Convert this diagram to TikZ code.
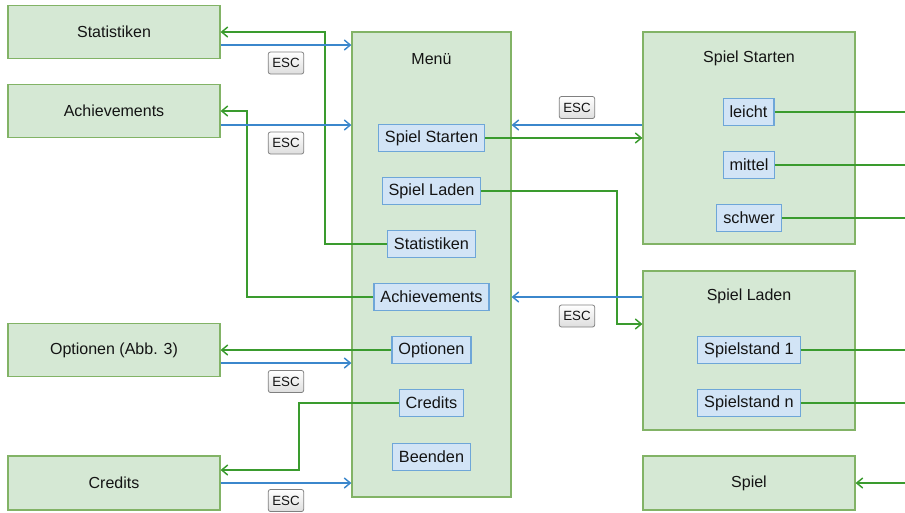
\documentclass[tikz,border=0pt]{standalone}
\usepackage{fontspec}
\setmainfont{Liberation Sans}
\usetikzlibrary{arrows.meta,calc}
\definecolor{gfill}{HTML}{D5E8D4}
\definecolor{gdraw}{HTML}{82B366}
\definecolor{bfill}{HTML}{D2E4F6}
\definecolor{bdraw}{HTML}{6EA6D8}
\definecolor{gline}{HTML}{3A9B2E}
\definecolor{bline}{HTML}{3B87CC}
\definecolor{txt}{HTML}{141414}
\tikzset{
  gbox/.style={draw=gdraw,fill=gfill,line width=0.9pt,inner sep=0pt,text=txt,font=\fontsize{12}{14}\selectfont},
  item/.style={draw=bdraw,fill=bfill,line width=0.9pt,inner xsep=4.8pt,inner ysep=0pt,minimum height=20pt,text=txt,font=\fontsize{12.2}{14}\selectfont},
  ttl/.style={text=txt,font=\fontsize{12}{14}\selectfont,inner sep=0pt},
  escbox/.style={draw=black!50,rounded corners=1.6pt,top color=white,bottom color=black!13,line width=0.6pt,minimum width=26.5pt,minimum height=16.5pt,inner sep=0pt,text=txt,font=\fontsize{10}{11}\selectfont},
  gcon/.style={draw=gline,line width=1.1pt,-{Straight Barb[length=4.5pt,width=7.5pt]}},
  gplain/.style={draw=gline,line width=1.1pt},
  bcon/.style={draw=bline,line width=1.1pt,-{Straight Barb[length=4.5pt,width=7.5pt]}},
}
\begin{document}
\begin{tikzpicture}[x=0.75pt,y=-0.75pt]
\useasboundingbox (0,0) rectangle (905,512);
% left boxes
\node[gbox,minimum width=159pt,minimum height=39.75pt] (stat) at (114,32) {Statistiken};
\node[gbox,minimum width=159pt,minimum height=39.75pt] (ach) at (114,111) {Achievements};
\node[gbox,minimum width=159pt,minimum height=39.75pt] (opt) at (114,350) {Optionen (Abb. 3)};
\node[gbox,minimum width=159pt,minimum height=40.5pt] (cred) at (114,483) {Credits};
% menu
\node[gbox,minimum width=119.25pt,minimum height=348.75pt] (menu) at (431.5,264.5) {};
\node[ttl] (menut) at (431.5,59) {Menü};
% right boxes
\node[gbox,minimum width=159pt,minimum height=159pt] (sstart) at (749,138) {};
\node[ttl] (sstartt) at (749,58) {Spiel Starten};
\node[gbox,minimum width=159pt,minimum height=119.25pt] (slad) at (749,350.5) {};
\node[ttl] (sladt) at (749,296) {Spiel Laden};
\node[gbox,minimum width=159pt,minimum height=40.5pt] (spiel) at (749,483) {Spiel};
% menu items
\node[item] (mstart) at (431.5,138) {Spiel Starten};
\node[item] (mlad) at (431.5,191) {Spiel Laden};
\node[item] (mstat) at (431.5,244) {Statistiken};
\node[item] (mach) at (431.5,297) {Achievements};
\node[item] (mopt) at (431.5,350) {Optionen};
\node[item] (mcred) at (431.5,403) {Credits};
\node[item] (mbeend) at (431.5,457) {Beenden};
% right items
\node[item] (leicht) at (748.5,112) {leicht};
\node[item] (mittel) at (749,165) {mittel};
\node[item] (schwer) at (749,218) {schwer};
\node[item] (st1) at (749,350) {Spielstand 1};
\node[item] (stn) at (749,403) {Spielstand n};
% helper coordinates
\coordinate (k1) at (325,32);
\coordinate (k2) at (247,111);
\coordinate (k4) at (299,470);
\coordinate (k5) at (617,324);
\coordinate (y45) at (0,45);
\coordinate (y125) at (0,125);
\coordinate (y363) at (0,363);
\coordinate (y297) at (0,297);
\coordinate (ex) at (905,0);
% green connectors (menu -> submenus)
\draw[gcon] (mstat.west) -| (k1) -- (stat.east);
\draw[gcon] (mach.west) -| (k2) -- (ach.east);
\draw[gcon] (mopt.west) -- (opt.east);
\draw[gcon] (mcred.west) -| (k4) -- (k4 -| cred.east);
\draw[gcon] (mstart.east) -- (sstart.west);
\draw[gcon] (mlad.east) -| (k5) -- (k5 -| slad.west);
% blue ESC connectors
\draw[bcon] (stat.east |- y45) -- (menu.west |- y45);
\draw[bcon] (ach.east |- y125) -- (menu.west |- y125);
\draw[bcon] (opt.east |- y363) -- (menu.west |- y363);
\draw[bcon] (cred.east) -- (cred.east -| menu.west);
\draw[bcon] (sstart.west |- y125) -- (menu.east |- y125);
\draw[bcon] (slad.west |- y297) -- (menu.east |- y297);
% outgoing lines on the right
\draw[gplain] (leicht.east) -- (leicht.east -| ex);
\draw[gplain] (mittel.east) -- (mittel.east -| ex);
\draw[gplain] (schwer.east) -- (schwer.east -| ex);
\draw[gplain] (st1.east) -- (st1.east -| ex);
\draw[gplain] (stn.east) -- (stn.east -| ex);
\draw[gcon] (spiel.east -| ex) -- (spiel.east);
% ESC labels
\node[escbox] (e1) at (286,63) {ESC};
\node[escbox] (e2) at (286,143) {ESC};
\node[escbox] (e3) at (286,381.5) {ESC};
\node[escbox] (e4) at (286,500.5) {ESC};
\node[escbox] (e5) at (577,107.5) {ESC};
\node[escbox] (e6) at (577,316) {ESC};
\end{tikzpicture}
\end{document}
